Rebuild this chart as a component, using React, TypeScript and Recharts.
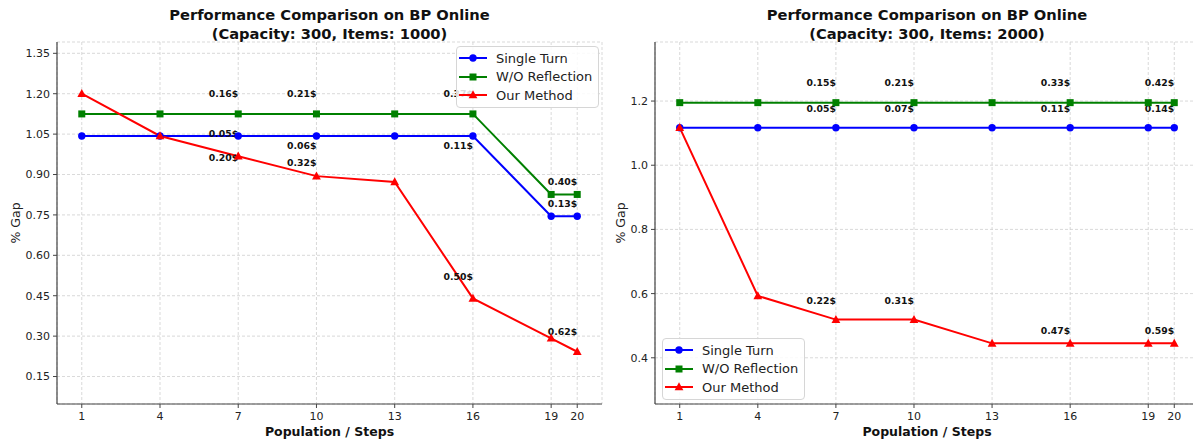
import React from 'react';
import { LineChart, Line, XAxis, YAxis, CartesianGrid, Legend, ReferenceDot } from 'recharts';

const FONT = '"DejaVu Sans", Verdana, sans-serif';

const steps = [1, 4, 7, 10, 13, 16, 19, 20];

// Capacity 300, Items 1000
const singleTurn1000 = [1.043, 1.043, 1.043, 1.043, 1.043, 1.043, 0.745, 0.745];
const woReflection1000 = [1.125, 1.125, 1.125, 1.125, 1.125, 1.125, 0.826, 0.826];
const ourMethod1000 = [1.2, 1.043, 0.968, 0.894, 0.872, 0.44, 0.292, 0.242];

// Capacity 300, Items 2000
const singleTurn2000 = [1.117, 1.117, 1.117, 1.117, 1.117, 1.117, 1.117, 1.117];
const woReflection2000 = [1.195, 1.195, 1.195, 1.195, 1.195, 1.195, 1.195, 1.195];
const ourMethod2000 = [1.117, 0.593, 0.519, 0.519, 0.445, 0.445, 0.445, 0.445];

const yTicks1000 = [0.15, 0.3, 0.45, 0.6, 0.75, 0.9, 1.05, 1.2, 1.35];
const yTicks2000 = [0.4, 0.6, 0.8, 1.0, 1.2];

// cost annotations: step, y position (data units), text
const cost1000 = [
  { step: 7, at: 1.202, text: '0.16$' },
  { step: 10, at: 1.202, text: '0.21$' },
  { step: 16, at: 1.202, text: '0.37$' },
  { step: 7, at: 1.053, text: '0.05$' },
  { step: 10, at: 1.006, text: '0.06$' },
  { step: 16, at: 1.006, text: '0.11$' },
  { step: 7, at: 0.962, text: '0.20$' },
  { step: 10, at: 0.943, text: '0.32$' },
  { step: 20, at: 0.873, text: '0.40$' },
  { step: 20, at: 0.793, text: '0.13$' },
  { step: 16, at: 0.521, text: '0.50$' },
  { step: 20, at: 0.319, text: '0.62$' },
];

const cost2000 = [
  { step: 7, at: 1.258, text: '0.15$' },
  { step: 10, at: 1.258, text: '0.21$' },
  { step: 16, at: 1.258, text: '0.33$' },
  { step: 20, at: 1.258, text: '0.42$' },
  { step: 7, at: 1.178, text: '0.05$' },
  { step: 10, at: 1.178, text: '0.07$' },
  { step: 16, at: 1.178, text: '0.11$' },
  { step: 20, at: 1.178, text: '0.14$' },
  { step: 7, at: 0.579, text: '0.22$' },
  { step: 10, at: 0.579, text: '0.31$' },
  { step: 16, at: 0.485, text: '0.47$' },
  { step: 20, at: 0.485, text: '0.59$' },
];

const series = [
  { key: 'single', name: 'Single Turn', color: '#0000ff', shape: 'circle' },
  { key: 'wo', name: 'W/O Reflection', color: '#008000', shape: 'square' },
  { key: 'ours', name: 'Our Method', color: '#ff0000', shape: 'triangle' },
];

function buildRows(a: number[], b: number[], c: number[]) {
  return steps.map((s, i) => ({ step: s, single: a[i], wo: b[i], ours: c[i] }));
}

function marker(shape: string, cx: number, cy: number, color: string, key?: string) {
  if (shape === 'circle') return <circle key={key} cx={cx} cy={cy} r={3.7} fill={color} />;
  if (shape === 'square') return <rect key={key} x={cx - 3.5} y={cy - 3.5} width={7} height={7} fill={color} />;
  return (
    <polygon
      key={key}
      points={`${cx},${cy - 4.7} ${cx - 4.4},${cy + 3.3} ${cx + 4.4},${cy + 3.3}`}
      fill={color}
    />
  );
}

const dotFor = (shape: string, color: string) => (p: any) =>
  marker(shape, p.cx, p.cy, color, `${shape}-${p.index}`);

function LegendBox() {
  return (
    <div
      style={{
        background: 'rgba(255,255,255,0.85)',
        border: '1px solid #d6d6d6',
        borderRadius: 4,
        padding: '2px 6px 2px 2px',
        fontFamily: FONT,
        fontSize: 13,
        color: '#222',
        whiteSpace: 'nowrap',
      }}
    >
      {series.map((s) => (
        <div key={s.key} style={{ display: 'flex', alignItems: 'center', height: 18.5 }}>
          <svg width={37} height={12}>
            <line x1={0} x2={28} y1={6} y2={6} stroke={s.color} strokeWidth={2} />
            {marker(s.shape, 14, 6, s.color)}
          </svg>
          <span>{s.name}</span>
        </div>
      ))}
    </div>
  );
}

const yLabel = (x: number) => (props: any) => {
  const vb = props.viewBox || {};
  const cy = (vb.y ?? 42) + (vb.height ?? 362) / 2;
  return (
    <text
      x={x}
      y={cy}
      transform={`rotate(-90, ${x}, ${cy})`}
      textAnchor="middle"
      dominantBaseline="central"
      fontFamily={FONT}
      fontSize={12.5}
      fill="#222"
    >
      % Gap
    </text>
  );
};

const xLabel = (props: any) => {
  const vb = props.viewBox || {};
  return (
    <text
      x={vb.x + vb.width / 2}
      y={vb.y + vb.height - 2}
      textAnchor="middle"
      fontFamily={FONT}
      fontSize={12.5}
      fontWeight="bold"
      fill="#111"
    >
      Population / Steps
    </text>
  );
};

interface PanelProps {
  rows: Array<{ step: number; single: number; wo: number; ours: number }>;
  costs: Array<{ step: number; at: number; text: string }>;
  yDomain: [number, number];
  yTicks: number[];
  decimals: number;
  yAxisWidth: number;
  marginRight: number;
  yLabelX: number;
  legendPos: { left: number; top: number };
}

function Panel({ rows, costs, yDomain, yTicks, decimals, yAxisWidth, marginRight, yLabelX, legendPos }: PanelProps) {
  const axisColor = '#444';
  const tickStyle = { fontSize: 11, fill: '#222', fontFamily: FONT };
  return (
    <LineChart width={610} height={442} data={rows} margin={{ top: 42, right: marginRight, bottom: 4, left: 0 }}>
      <CartesianGrid stroke="#cfcfcf" strokeDasharray="3 2" strokeWidth={0.8} />
      <XAxis
        dataKey="step"
        type="number"
        domain={[0.05, 20.95]}
        ticks={steps}
        allowDataOverflow
        height={34}
        tickSize={4}
        tickMargin={4}
        tick={tickStyle}
        stroke={axisColor}
        axisLine={{ stroke: axisColor, strokeWidth: 1.2 }}
        label={xLabel}
      />
      <XAxis
        xAxisId="top"
        orientation="top"
        type="number"
        domain={[0.05, 20.95]}
        height={0}
        tick={false}
        tickLine={false}
        axisLine={{ stroke: axisColor, strokeWidth: 1.2 }}
      />
      <YAxis
        type="number"
        domain={yDomain}
        ticks={yTicks}
        allowDataOverflow
        width={yAxisWidth}
        tickSize={4}
        tickMargin={3}
        tick={tickStyle}
        stroke={axisColor}
        tickFormatter={(v: number) => v.toFixed(decimals)}
        axisLine={{ stroke: axisColor, strokeWidth: 1.2 }}
        label={yLabel(yLabelX)}
      />
      <YAxis
        yAxisId="right"
        orientation="right"
        type="number"
        domain={yDomain}
        width={0}
        tick={false}
        tickLine={false}
        axisLine={{ stroke: axisColor, strokeWidth: 1.2 }}
      />
      {series.map((s) => (
        <Line
          key={s.key}
          dataKey={s.key}
          name={s.name}
          type="linear"
          stroke={s.color}
          strokeWidth={2}
          dot={dotFor(s.shape, s.color)}
          activeDot={false}
          isAnimationActive={false}
        />
      ))}
      {costs.map((c, i) => (
        <ReferenceDot
          key={`cost-${i}`}
          x={c.step}
          y={c.at}
          r={0}
          shape={(p: any) => (
            <text
              x={p.cx}
              y={p.cy}
              textAnchor="end"
              dominantBaseline="central"
              fontFamily={FONT}
              fontSize={9.3}
              fontWeight="bold"
              fill="#111"
            >
              {c.text}
            </text>
          )}
        />
      ))}
      <Legend
        layout="horizontal"
        align="center"
        verticalAlign="middle"
        content={() => <LegendBox />}
        wrapperStyle={{ left: legendPos.left, top: legendPos.top, width: 'auto', height: 'auto' }}
      />
    </LineChart>
  );
}

const titleStyle: React.CSSProperties = {
  position: 'absolute',
  top: 5,
  textAlign: 'center',
  fontFamily: FONT,
  fontWeight: 'bold',
  fontSize: 14.7,
  lineHeight: '19px',
  color: '#111',
};

export default function App() {
  const rows1000 = buildRows(singleTurn1000, woReflection1000, ourMethod1000);
  const rows2000 = buildRows(singleTurn2000, woReflection2000, ourMethod2000);
  return (
    <div
      style={{
        position: 'absolute',
        left: 0,
        top: 0,
        width: 1193,
        height: 442,
        overflow: 'hidden',
        background: '#fff',
      }}
    >
      <div style={{ ...titleStyle, left: 57, width: 545 }}>
        Performance Comparison on BP Online
        <br />
        (Capacity: 300, Items: 1000)
      </div>
      <div style={{ ...titleStyle, left: 655, width: 544 }}>
        Performance Comparison on BP Online
        <br />
        (Capacity: 300, Items: 2000)
      </div>
      <div style={{ position: 'absolute', left: 0, top: 0 }}>
        <Panel
          rows={rows1000}
          costs={cost1000}
          yDomain={[0.048, 1.392]}
          yTicks={yTicks1000}
          decimals={2}
          yAxisWidth={57}
          marginRight={8}
          yLabelX={15}
          legendPos={{ left: 456, top: 46 }}
        />
      </div>
      <div style={{ position: 'absolute', left: 600, top: 0 }}>
        <Panel
          rows={rows2000}
          costs={cost2000}
          yDomain={[0.256, 1.384]}
          yTicks={yTicks2000}
          decimals={1}
          yAxisWidth={55}
          marginRight={11}
          yLabelX={20}
          legendPos={{ left: 62, top: 338 }}
        />
      </div>
    </div>
  );
}
